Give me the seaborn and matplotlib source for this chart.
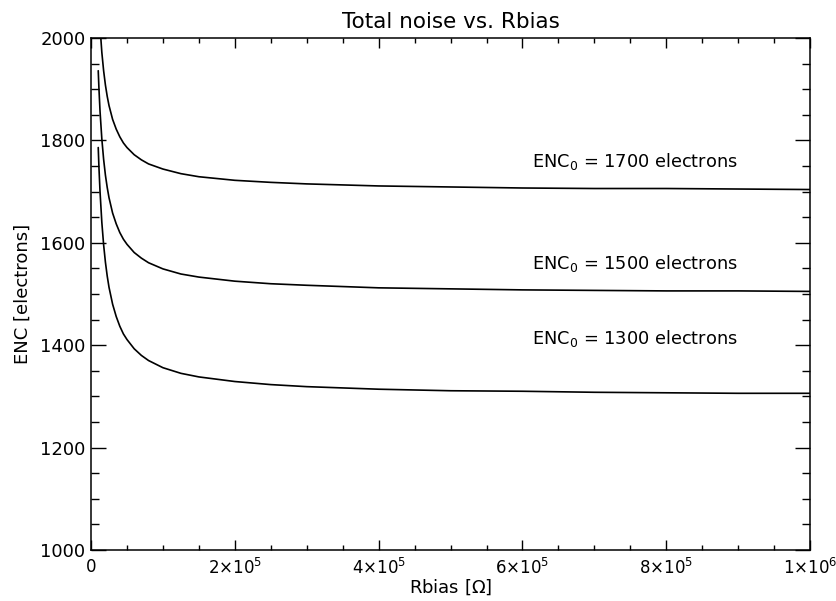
import pandas as pd
import numpy as np
import matplotlib
matplotlib.use("Agg")
import matplotlib.pyplot as plt
import seaborn as sns
from matplotlib.ticker import MultipleLocator, FixedLocator

# values (Rbias in ohm, ENC in electrons)
rbias = [1.0e4, 1.1e4, 1.25e4, 1.5e4, 1.75e4, 2.0e4, 2.25e4, 2.5e4, 3.0e4, 3.5e4,
         4.0e4, 4.5e4, 5.0e4, 6.0e4, 7.0e4, 8.0e4, 1.0e5, 1.25e5, 1.5e5, 2.0e5,
         2.5e5, 3.0e5, 4.0e5, 5.0e5, 6.0e5, 7.0e5, 8.0e5, 9.0e5, 1.0e6]
enc_1700 = [2095, 2062, 2022, 1972, 1936, 1908, 1886, 1868, 1841, 1822,
            1807, 1795, 1786, 1772, 1762, 1754, 1744, 1735, 1729, 1722,
            1718, 1715, 1711, 1709, 1707, 1706, 1706, 1705, 1704]
enc_1500 = [1936, 1901, 1857, 1803, 1763, 1732, 1708, 1688, 1658, 1637,
            1620, 1607, 1597, 1581, 1570, 1561, 1549, 1539, 1533, 1525,
            1520, 1517, 1512, 1510, 1508, 1507, 1506, 1506, 1505]
enc_1300 = [1786, 1747, 1700, 1640, 1596, 1562, 1535, 1513, 1480, 1456,
            1437, 1422, 1411, 1393, 1380, 1370, 1356, 1345, 1338, 1329,
            1323, 1319, 1314, 1311, 1310, 1308, 1307, 1306, 1306]
enc0_labels = ["1700", "1500", "1300"]
label_y = [1758, 1560, 1414]

xticks = [0, 2e5, 4e5, 6e5, 8e5, 1e6]
xticklabels = ["0", r"$2{\times}10^5$", r"$4{\times}10^5$", r"$6{\times}10^5$",
               r"$8{\times}10^5$", r"$1{\times}10^6$"]
yticks = [1000, 1200, 1400, 1600, 1800, 2000]

df = pd.concat([
    pd.DataFrame({"Rbias": rbias, "ENC": enc_1700, "enc0": "1700"}),
    pd.DataFrame({"Rbias": rbias, "ENC": enc_1500, "enc0": "1500"}),
    pd.DataFrame({"Rbias": rbias, "ENC": enc_1300, "enc0": "1300"}),
])

sns.set_theme(style="ticks")
plt.rcParams["font.family"] = ["DejaVu Sans"]
plt.rcParams["mathtext.fontset"] = "dejavusans"
plt.rcParams["text.color"] = "black"
plt.rcParams["axes.labelcolor"] = "black"

fig = plt.figure(figsize=(8.36, 6.01), dpi=100)
ax = fig.add_axes([0.1089, 0.0849, 0.8601, 0.8519])

sns.lineplot(data=df, x="Rbias", y="ENC", hue="enc0", palette=["black"] * 3,
             legend=False, ax=ax, linewidth=1.2, sort=False)

for lab, yy in zip(enc0_labels, label_y):
    ax.text(6.13e5, yy, "ENC$_0$ = " + lab + " electrons", fontsize=12.8,
            va="center", ha="left", color="black")

ax.set_xlim(0, 1e6)
ax.set_ylim(1000, 2000)
ax.xaxis.set_major_locator(FixedLocator(xticks))
ax.set_xticklabels(xticklabels)
ax.xaxis.set_minor_locator(MultipleLocator(5e4))
ax.yaxis.set_major_locator(FixedLocator(yticks))
ax.yaxis.set_minor_locator(MultipleLocator(50))

ax.tick_params(axis="both", which="both", direction="in", top=True, right=True,
               colors="black", width=1.0)
ax.tick_params(axis="x", which="major", length=7.2, pad=6, labelsize=12)
ax.tick_params(axis="x", which="minor", length=3.6)
ax.tick_params(axis="y", which="major", length=10.8, pad=4, labelsize=13)
ax.tick_params(axis="y", which="minor", length=5.8)
for s in ax.spines.values():
    s.set_linewidth(1.1)
    s.set_color("black")

ax.set_xlabel(r"Rbias [$\Omega$]", fontsize=13, labelpad=-1)
ax.set_ylabel("ENC [electrons]", fontsize=13, labelpad=6)
ax.set_title("Total noise vs. Rbias", fontsize=15.5, pad=7)

fig.savefig("out.png", dpi=100)
